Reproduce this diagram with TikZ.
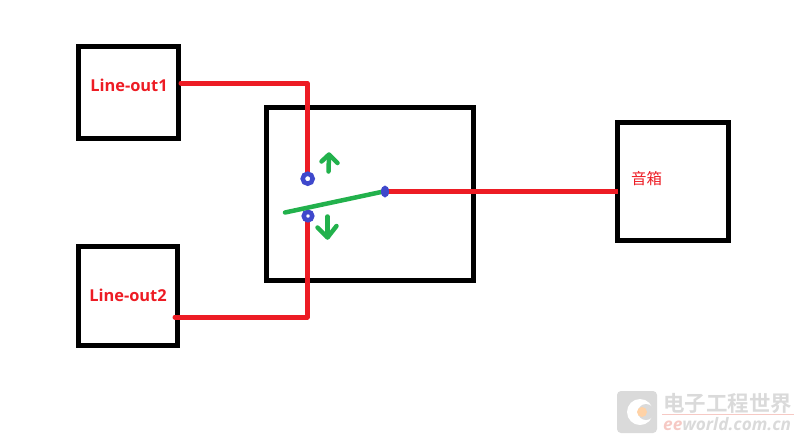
\documentclass[tikz,border=0pt]{standalone}
\usepackage{fontspec}
\usetikzlibrary{shapes.geometric}
\setmainfont{Open Sans}
\newfontfamily\cjk{Noto Sans CJK SC}
\newfontfamily\cjkbold{Noto Sans CJK SC Bold}
\definecolor{wirered}{HTML}{ED1C24}
\definecolor{levergreen}{HTML}{22B14C}
\definecolor{contactblue}{HTML}{3F48CC}
\definecolor{markgray}{HTML}{DADADA}
\definecolor{markpink}{HTML}{F6C9C4}
\def\boxw{5pt}

\begin{document}
\begin{tikzpicture}[
    x=1pt,y=-1pt,
    box/.style={rectangle,draw=black,line width=\boxw,inner sep=0pt},
    boxtext/.style={text=wirered,font=\fontsize{16.4}{17}\selectfont\bfseries},
    wire/.style={draw=wirered,line width=5pt,line cap=round,line join=round},
    lever/.style={draw=levergreen,line width=4.5pt,line cap=round},
    hint/.style={draw=levergreen,line width=4.5pt,line cap=round,line join=round},
    contact/.style={circle,draw=contactblue,fill=white,line width=4.5pt,inner sep=0pt,minimum size=10pt},
    pivot/.style={ellipse,fill=contactblue,inner sep=0pt,minimum width=8pt,minimum height=12pt},
    marktext/.style={text=markgray,inner sep=0pt},
]
\useasboundingbox (0,0) rectangle (800,440);

\node[box,minimum width=100pt,minimum height=92pt] (lineA) at (128.5,92.5) {};
\node[box,minimum width=99pt,minimum height=99pt] (lineB) at (128,295.5) {};
\node[box,minimum width=207pt,minimum height=173pt] (switch) at (369.5,193.5) {};
\node[box,minimum width=111pt,minimum height=118pt] (speaker) at (673,181.5) {};
\node[boxtext] (lineAtext) at (129,85) {Line-out1};
\node[boxtext] (lineBtext) at (128,295) {Line-out2};
\node[boxtext,font=\cjk\fontsize{15.5}{15.5}\selectfont] (speakertext) at (646.5,178.5) {音箱};

% switch points
\coordinate (up) at (307.7,178.7);
\coordinate (down) at (308,216);
\coordinate (hinge) at (385,191.5);
\coordinate (leverend) at (285,212.5);
\coordinate (lineBout) at (175,317);

\draw[wire] (lineA.east |- 0,83) -- (307,83) -- (307,178);
\draw[wire] (lineBout) -- (307,317) -- (307,216);
\draw[wire,line cap=butt] (hinge) -- ([xshift=3pt]speaker.west |- hinge);

\node[contact] (upcontact) at (up) {};
\node[contact,minimum size=8.5pt] (downcontact) at (down) {};
\draw[lever] (leverend) -- (383.5,191.5);
\node[pivot] (hingedot) at (hinge) {};

% arrows are drawn by hand
\draw[hint] (328.5,171.5) -- (329,155);
\draw[hint] (321.5,161.5) -- (329,154.5) -- (337.5,163);
\draw[hint] (327.5,216.5) -- (327.5,237);
\draw[hint] (317.5,227.5) -- (327.5,237.5) -- (336.5,226);

% watermark
\fill[markgray,rounded corners=4pt] (617,391) rectangle (657,433);
\fill[white] (640,412) circle (13pt);
\fill[markgray] (646,412) circle (8pt);
\fill[orange!35] (642,412) circle (5pt);
\node[marktext,anchor=west,font=\cjkbold\fontsize{21.5}{21.5}\selectfont] (marktop) at (663,403) {电子工程世界};
\draw[markpink,line width=1pt] (662,414) -- (794,414);
\node[marktext,anchor=west,font=\fontsize{17.2}{17.2}\selectfont\bfseries\itshape] (markbottom) at (663,424.5) {\textcolor{markpink}{ee}world.com.cn};

\end{tikzpicture}
\end{document}
